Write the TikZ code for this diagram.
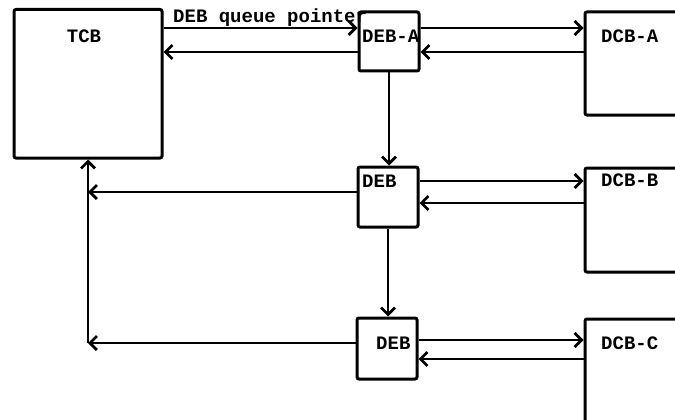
\documentclass[tikz,border=0pt]{standalone}
\usepackage{fontspec}
\setmonofont{Liberation Mono}
\usetikzlibrary{arrows.meta}
\begin{document}
\begin{tikzpicture}[x=1pt,y=-1pt,
  box/.style={draw,line width=3pt,rounded corners=2pt,inner sep=0pt},
  lbl/.style={inner sep=0pt,font=\ttfamily\bfseries\fontsize{19}{19}\selectfont},
  conn/.style={line width=2.7pt,-{Straight Barb[length=7pt,width=14pt,line width=2.7pt]}}]
\useasboundingbox (0,0) rectangle (675,420);
\clip (0,0) rectangle (675,420);
% boxes
\node[box,minimum width=148pt,minimum height=148.5pt] (TCB) at (88,83.75) {};
\node[box,minimum width=60pt,minimum height=59pt] (DEBA) at (389,41.5) {};
\node[box,minimum width=60pt,minimum height=60pt] (DEBB) at (388,197) {};
\node[box,minimum width=60pt,minimum height=61pt] (DEBC) at (387,348.5) {};
\node[box,minimum width=135pt,minimum height=103pt] (DCBA) at (652.5,63.5) {};
\node[box,minimum width=135pt,minimum height=104pt] (DCBB) at (652.5,220) {};
\node[box,minimum width=135pt,minimum height=141pt] (DCBC) at (652.5,389.5) {};
% labels
\node[lbl,anchor=base] (tTCB) at (84,43) {TCB};
\node[lbl,anchor=base west] (tq) at (173,23) {DEB queue pointer};
\node[lbl,anchor=base west] (tDEBA) at (362,43) {DEB-A};
\node[lbl,anchor=base west] (tDCBA) at (601,43) {DCB-A};
\node[lbl,anchor=base west] (tDEBB) at (362,187) {DEB};
\node[lbl,anchor=base west] (tDCBB) at (601,186) {DCB-B};
\node[lbl,anchor=base west] (tDEBC) at (376,349) {DEB};
\node[lbl,anchor=base west] (tDCBC) at (601,349) {DCB-C};
% TCB <-> DEB-A
\draw[conn] (TCB.east |- 0,28) -- (DEBA.west |- 0,28);
\draw[conn] (DEBA.west |- 0,52) -- (TCB.east |- 0,52);
% DEB <-> DCB
\draw[conn] (DEBA.east |- 0,28) -- (DCBA.west |- 0,28);
\draw[conn] (DCBA.west |- 0,52) -- (DEBA.east |- 0,52);
\draw[conn] (DEBB.east |- 0,181) -- (DCBB.west |- 0,181);
\draw[conn] (DCBB.west |- 0,203) -- (DEBB.east |- 0,203);
\draw[conn] (DEBC.east |- 0,340) -- (DCBC.west |- 0,340);
\draw[conn] (DCBC.west |- 0,359) -- (DEBC.east |- 0,359);
% chain
\draw[conn] (DEBA.south -| 389,0) -- (DEBB.north -| 389,0);
\draw[conn] (DEBB.south -| 388,0) -- (DEBC.north -| 388,0);
% return to TCB
\coordinate (jB) at (88,192);
\coordinate (jC) at (88,343);
\draw[conn] (DEBB.west |- jB) -- (jB);
\draw[conn] (DEBC.west |- jC) -- (jC);
\draw[conn] (jC) -- (TCB.south -| jC);
\end{tikzpicture}
\end{document}
